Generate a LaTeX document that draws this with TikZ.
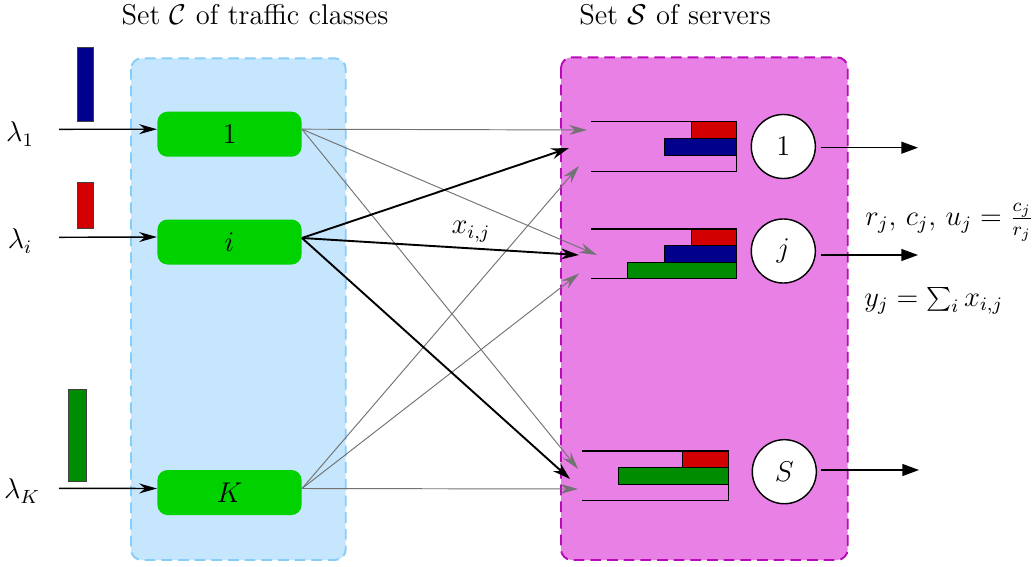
\documentclass[tikz,border=0pt]{standalone}
\usetikzlibrary{arrows.meta,calc}
\definecolor{boxblue}{RGB}{197,230,252}
\definecolor{boxblueline}{RGB}{135,205,250}
\definecolor{boxmag}{RGB}{232,128,230}
\definecolor{boxmagline}{RGB}{185,10,185}
\definecolor{clsgreen}{RGB}{0,210,0}
\definecolor{qred}{RGB}{210,0,0}
\definecolor{qblue}{RGB}{0,0,140}
\definecolor{qgreen}{RGB}{0,140,0}
\begin{document}
\begin{tikzpicture}[x=0.42pt,y=-0.42pt,
  font=\large,
  cls/.style={fill=clsgreen, rounded corners=4.2pt, minimum width=60.5pt, minimum height=18.9pt, inner sep=0pt},
  srv/.style={circle, draw, fill=white, semithick, minimum size=26.9pt, inner sep=0pt},
  inarr/.style={semithick, -{Stealth[length=7.5pt,width=4.2pt,inset=2.5pt]}},
  grayarr/.style={black!55, thin, -{Stealth[length=7.5pt,width=4.2pt,inset=2.5pt]}},
  blkarr/.style={black, line width=0.8pt, -{Stealth[length=7.5pt,width=4.6pt,inset=2.5pt]}},
  outarr/.style={semithick, -{Triangle[length=7pt,width=5pt]}},
  bar/.style={draw=black!75, thin},
  queue/.style={semithick},
  title/.style={inner sep=0pt, anchor=base},
  grp/.style={rounded corners=4.5pt, line width=0.8pt, dash pattern=on 4.5pt off 2.5pt}
]
\useasboundingbox (0,0) rectangle (1035,566);

% group boxes
\filldraw[grp, fill=boxblue, draw=boxblueline] (131,58.3) rectangle (345.7,560);
\filldraw[grp, fill=boxmag, draw=boxmagline] (561,57.3) rectangle (847.7,560);

% titles
\node[title] (tc) at (255,25) {Set $\mathcal{C}$ of traffic classes};
\node[title] (ts) at (675,25) {Set $\mathcal{S}$ of servers};

% class nodes
\node[cls] (c1) at (229.5,134.2) {\raisebox{-2pt}{$1$}};
\node[cls] (ci) at (229.5,242) {\raisebox{-2pt}{$i$}};
\node[cls] (cK) at (229.5,492.5) {\raisebox{-2pt}{$K$}};

% lambda labels
\node (l1) at (20,134) {$\lambda_1$};
\node (li) at (20,241) {$\lambda_i$};
\node (lK) at (22,491) {$\lambda_K$};

% input bars
\filldraw[bar, fill=qblue] (77,47.7) rectangle (93.7,121.3);
\filldraw[bar, fill=qred] (77,182.7) rectangle (93.7,228.7);
\filldraw[bar, fill=qgreen] (68.3,389.3) rectangle (86.7,481.7);

% input arrows
\coordinate (a1) at (59,129.3);
\coordinate (ai) at (59,237.3);
\coordinate (aK) at (59,488.3);
\coordinate (e1) at ($(c1.west)+(0,-5)$);
\coordinate (ei) at ($(ci.west)+(0,-5)$);
\coordinate (eK) at ($(cK.west)+(0,-4)$);
\draw[inarr] (a1) -- (e1);
\draw[inarr] (ai) -- (ei);
\draw[inarr] (aK) -- (eK);

% class exits
\coordinate (x1) at ($(c1.east)+(0,-5)$);
\coordinate (xi) at ($(ci.east)+(0,-4)$);
\coordinate (xK) at ($(cK.east)+(0,-4)$);

% queue entry points
\coordinate (q11) at (587,130);
\coordinate (q1i) at (569,148);
\coordinate (q1K) at (579,166);
\coordinate (qj1) at (597,255);
\coordinate (qji) at (579,255);
\coordinate (qjK) at (579,273.5);
\coordinate (qS1) at (578,469);
\coordinate (qSi) at (570,479);
\coordinate (qSK) at (578,489);

% connectors
\draw[grayarr] (x1) -- (q11);
\draw[grayarr] (x1) -- (qj1);
\draw[grayarr] (x1) -- (qS1);
\draw[grayarr] (xK) -- (q1K);
\draw[grayarr] (xK) -- (qjK);
\draw[grayarr] (xK) -- (qSK);
\draw[blkarr] (xi) -- (q1i);
\draw[blkarr] (xi) -- node[above, pos=0.61, yshift=-1pt] {$x_{i,j}$} (qji);
\draw[blkarr] (xi) -- (qSi);

% queue 1
\filldraw[thin, fill=qred] (691.7,121.7) rectangle (736.7,138.3);
\filldraw[thin, fill=qblue] (664,138.3) rectangle (736.7,155);
\draw[queue] (591,121.7) -- (736.7,121.7) -- (736.7,171.7) -- (591,171.7);
% queue j
\filldraw[thin, fill=qred] (691.7,229) rectangle (736.7,245.7);
\filldraw[thin, fill=qblue] (664,245.7) rectangle (736.7,262.3);
\filldraw[thin, fill=qgreen] (627.3,262.3) rectangle (736.7,278.3);
\draw[queue] (591,229) -- (736.7,229) -- (736.7,278.3) -- (591,278.3);
% queue S
\filldraw[thin, fill=qred] (682.7,451) rectangle (728.3,467.7);
\filldraw[thin, fill=qgreen] (618.3,467.7) rectangle (728.3,484);
\draw[queue] (582.3,451) -- (728.3,451) -- (728.3,500.7) -- (582.3,500.7);

% servers
\node[srv] (s1) at (783.3,146.5) {$1$};
\node[srv] (sj) at (783.3,251) {$j$};
\node[srv] (sS) at (784.3,471.7) {$S$};

% outputs
\coordinate (o1a) at (821,147.7);
\coordinate (o1b) at (918,147.7);
\coordinate (oja) at (821,255);
\coordinate (ojb) at (918,255);
\coordinate (oSa) at (821,470);
\coordinate (oSb) at (919,470);
\draw[outarr] (o1a) -- (o1b);
\draw[outarr] (oja) -- (ojb);
\draw[outarr] (oSa) -- (oSb);

% server labels
\node[anchor=west, inner sep=0pt] (rj) at (865,222) {$r_j,\, c_j,\, u_j = \frac{c_j}{r_j}$};
\node[anchor=west, inner sep=0pt] (yj) at (864,301) {$y_j = \sum_i x_{i,j}$};
\end{tikzpicture}
\end{document}
